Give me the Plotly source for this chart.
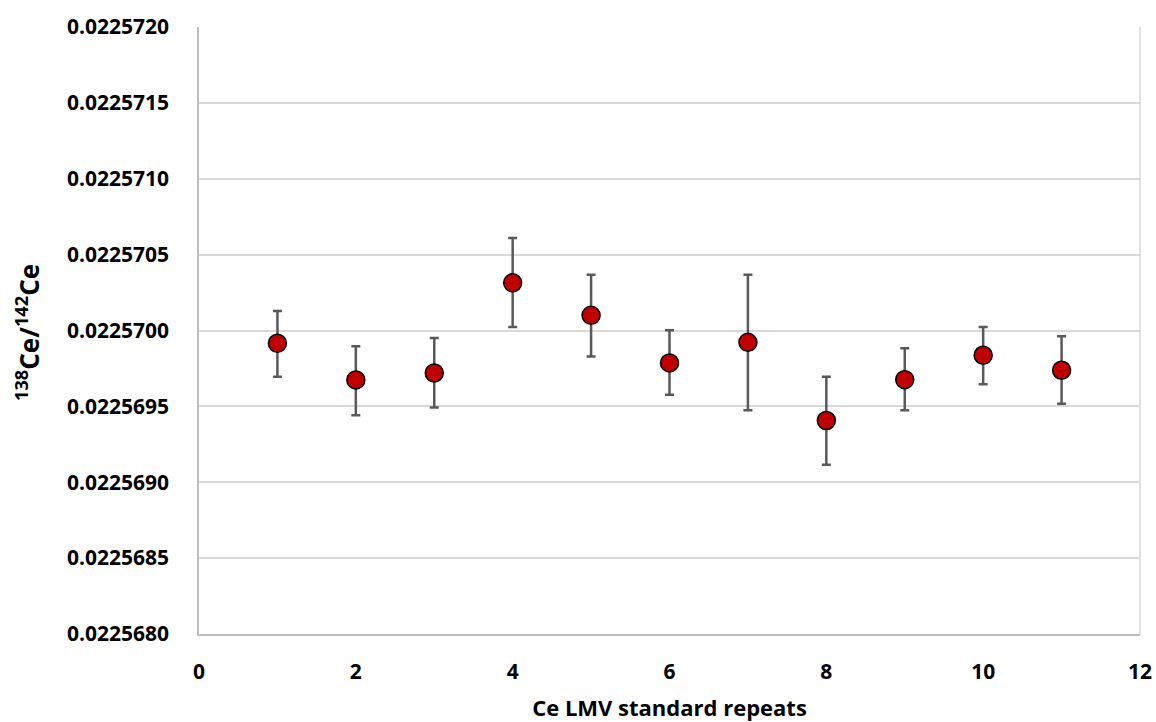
import plotly.graph_objects as go

# Data
repeat = [1, 2, 3, 4, 5, 6, 7, 8, 9, 10, 11]
ratio = [0.022569916, 0.022569674, 0.022569720, 0.022570314, 0.022570100,
         0.022569786, 0.022569922, 0.022569407, 0.022569676, 0.022569837,
         0.022569738]
err_plus = [2.12e-7, 2.22e-7, 2.31e-7, 2.95e-7, 2.67e-7, 2.15e-7, 4.45e-7,
            2.89e-7, 2.07e-7, 1.86e-7, 2.24e-7]
err_minus = [2.20e-7, 2.32e-7, 2.28e-7, 2.91e-7, 2.72e-7, 2.10e-7, 4.47e-7,
             2.92e-7, 2.01e-7, 1.91e-7, 2.20e-7]

x_ticks = [0, 2, 4, 6, 8, 10, 12]
y_ticks = [0.0225680, 0.0225685, 0.0225690, 0.0225695, 0.0225700,
           0.0225705, 0.0225710, 0.0225715, 0.0225720]
y_tick_text = ["0.0225680", "0.0225685", "0.0225690", "0.0225695", "0.0225700",
               "0.0225705", "0.0225710", "0.0225715", "0.0225720"]

FONT = "Open Sans"

fig = go.Figure()
fig.add_trace(go.Scatter(
    x=repeat, y=ratio, mode="markers",
    marker=dict(size=18, color="#c00000", line=dict(color="#000000", width=1.5)),
    error_y=dict(type="data", symmetric=False, array=err_plus, arrayminus=err_minus,
                 color="#595959", thickness=2.5, width=4.5),
    showlegend=False,
))

fig.update_layout(
    width=1156, height=722,
    margin=dict(l=199, r=16, t=26.5, b=88),
    paper_bgcolor="white", plot_bgcolor="white",
    font=dict(family=FONT, color="#000000"),
    xaxis=dict(
        range=[0, 12], tickvals=x_ticks, showgrid=False, zeroline=False,
        automargin=False,
        showline=True, linecolor="#bfbfbf", linewidth=1.5,
        tickfont=dict(family=FONT, size=21, color="#000000", weight="bold"),
        ticklabelstandoff=18,
        title=dict(text="<b>Ce LMV standard repeats</b>",
                   font=dict(family=FONT, size=22, color="#000000"), standoff=26),
    ),
    yaxis=dict(
        range=[0.0225680, 0.0225720], tickvals=y_ticks, ticktext=y_tick_text,
        automargin=False,
        showgrid=True, gridcolor="#d9d9d9", gridwidth=1.5, zeroline=False,
        showline=True, linecolor="#bfbfbf", linewidth=1.5,
        tickfont=dict(family=FONT, size=21, color="#000000", weight="bold"),
        ticklabelstandoff=24,
    ),
    shapes=[dict(type="line", xref="paper", yref="paper", x0=1, x1=1, y0=0, y1=1,
                 line=dict(color="#d9d9d9", width=1.5))],
    annotations=[dict(
        text="<b><sup>138</sup>Ce/<sup>142</sup>Ce</b>",
        xref="paper", yref="paper", x=0, y=0.496, xshift=-171,
        xanchor="center", yanchor="middle", textangle=-90, showarrow=False,
        font=dict(family=FONT, size=26, color="#000000"),
    )],
)

fig.write_html("out.html", config={"displayModeBar": False},
               post_script="document.body.style.margin='0';")
